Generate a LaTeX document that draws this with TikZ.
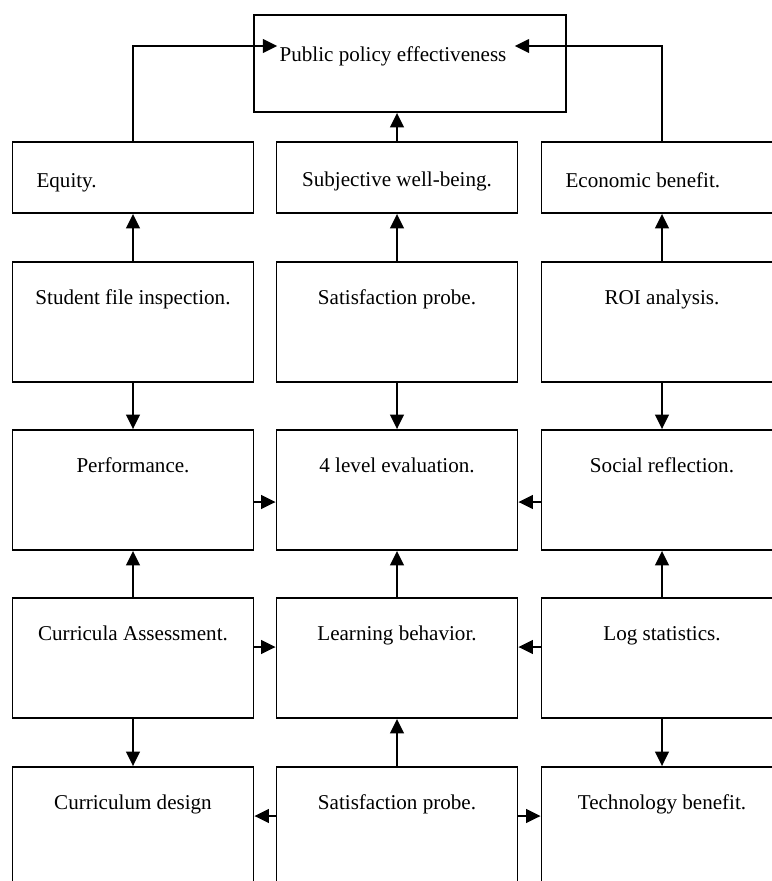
\documentclass[tikz,border=0pt]{standalone}
\usepackage{fontspec}
\setmainfont{Liberation Serif}
\usetikzlibrary{arrows.meta,positioning}

\tikzset{
  box/.style={draw, line width=1.3pt, minimum width=60.25mm, minimum height=30mm, inner sep=0pt},
  flat/.style={box, minimum height=17.75mm},
  tall/.style={box, label={[anchor=base, yshift=-10.75mm]north:#1}},
  leftlbl/.style={label={[anchor=base west, xshift=5mm, yshift=-2.4mm]west:#1}},
  midlbl/.style={label={[anchor=base, yshift=-11.25mm]north:#1}},
  arr/.style={-{Triangle[length=3.6mm, width=3.4mm]}, line width=1.3pt},
}

\begin{document}
\begin{tikzpicture}[x=0.25mm, y=-0.25mm, font=\fontsize{15}{18}\selectfont]
    \useasboundingbox (0,0) rectangle (772,881);

    % Goal
    \node[box, minimum width=78mm, minimum height=24.25mm] (ppe) at (410,63.5) {};
    \node[inner sep=0pt] (ppetext) at (393,56) {Public policy effectiveness};

    % First row
    \node[flat, leftlbl=Equity.] (equity) at (133,177.5) {};
    \node[flat, midlbl=Subjective well-being.] (wellbeing) at (397,177.5) {};
    \node[flat, leftlbl=Economic benefit.] (econ) at (662,177.5) {};

    % Second row
    \node[tall=Student file inspection.] (fileinsp) at (133,322) {};
    \node[tall=Satisfaction probe.] (satis) at (397,322) {};
    \node[tall=ROI analysis.] (roi) at (662,322) {};

    % Third row
    \node[tall=Performance.] (perf) at (133,490) {};
    \node[tall=4 level evaluation.] (fourlevel) at (397,490) {};
    \node[tall=Social reflection.] (social) at (662,490) {};

    % Fourth row
    \node[tall=Curricula Assessment.] (currassess) at (133,658) {};
    \node[tall=Learning behavior.] (learnbeh) at (397,658) {};
    \node[tall=Log statistics.] (logstat) at (662,658) {};

    % Fifth row
    \node[tall=Curriculum design] (currdesign) at (133,827) {};
    \node[tall=Satisfaction probe.] (satisb) at (397,827) {};
    \node[tall=Technology benefit.] (techben) at (662,827) {};

    % Into the goal
    \draw[arr] (equity.north) |- ([xshift=-0.5mm, yshift=2.5mm]ppetext.west);
    \draw[arr] (econ.north) |- ([xshift=2mm, yshift=2.5mm]ppetext.east);
    \draw[arr] (wellbeing.north) -- (wellbeing.north |- ppe.south);

    % Second row up and down
    \draw[arr] (fileinsp) -- (equity);
    \draw[arr] (satis) -- (wellbeing);
    \draw[arr] (roi) -- (econ);
    \draw[arr] (fileinsp) -- (perf);
    \draw[arr] (satis) -- (fourlevel);
    \draw[arr] (roi) -- (social);

    % Third row
    \draw[arr] ([yshift=-3mm]perf.east) -- ([yshift=-3mm]fourlevel.west);
    \draw[arr] ([yshift=-3mm]social.west) -- ([yshift=-3mm]fourlevel.east);

    % Fourth row
    \draw[arr] (currassess) -- (perf);
    \draw[arr] (learnbeh) -- (fourlevel);
    \draw[arr] (logstat) -- (social);
    \draw[arr] ([yshift=2.75mm]currassess.east) -- ([yshift=2.75mm]learnbeh.west);
    \draw[arr] ([yshift=2.75mm]logstat.west) -- ([yshift=2.75mm]learnbeh.east);
    \draw[arr] (currassess) -- (currdesign);
    \draw[arr] (logstat) -- (techben);

    % Fifth row
    \draw[arr] (satisb) -- (learnbeh);
    \draw[arr] ([yshift=2.75mm]satisb.west) -- ([yshift=2.75mm]currdesign.east);
    \draw[arr] ([yshift=2.75mm]satisb.east) -- ([yshift=2.75mm]techben.west);
\end{tikzpicture}
\end{document}
